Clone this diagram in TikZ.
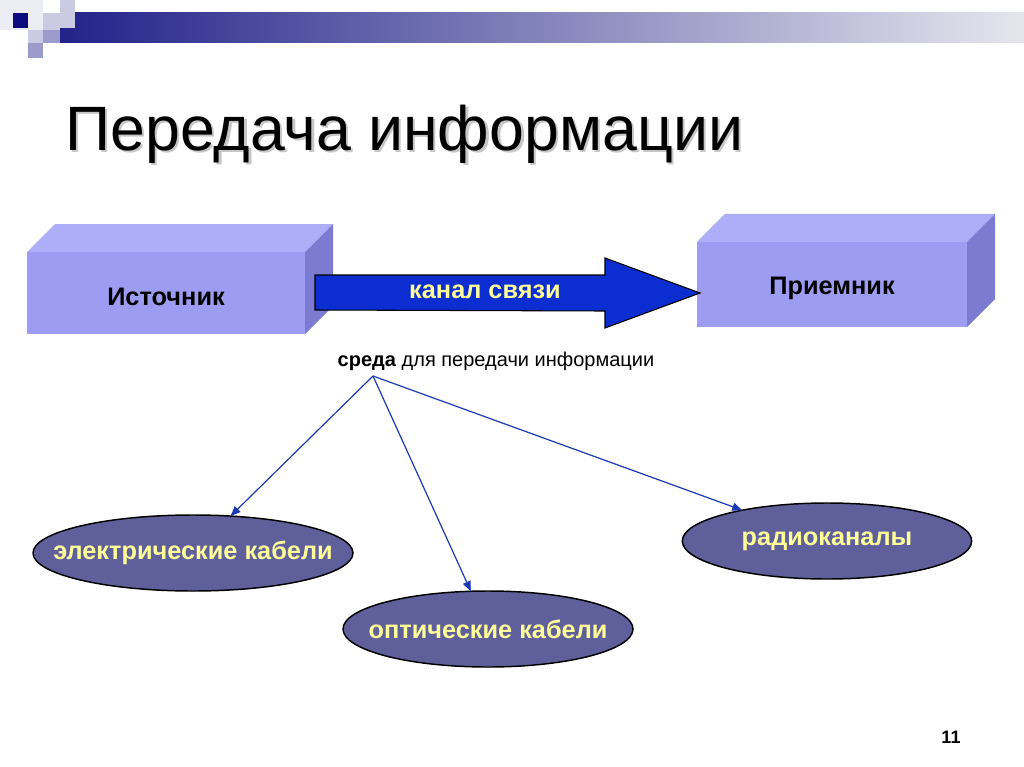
\documentclass[tikz,border=0pt]{standalone}
\usepackage{fontspec}
\setmainfont{Liberation Sans}
\usepackage{tikz}
\usetikzlibrary{arrows.meta,shapes.geometric}
\definecolor{barnavy}{HTML}{22228A}
\definecolor{barfade}{HTML}{E6E6EE}
\definecolor{tilenavy}{HTML}{0C0C7E}
\definecolor{tilepale}{HTML}{ECECF3}
\definecolor{tilelight}{HTML}{CACAE2}
\definecolor{tilemid}{HTML}{9C9CCC}
\definecolor{boxfront}{HTML}{9C9CF2}
\definecolor{boxtop}{HTML}{AEAEF8}
\definecolor{boxside}{HTML}{7B7BD2}
\definecolor{chanblue}{HTML}{0C2ED0}
\definecolor{linkblue}{HTML}{1C3AB4}
\definecolor{ovalfill}{HTML}{5F5F9C}
\definecolor{paleyellow}{HTML}{FFFF99}
\tikzset{
  heading/.style={anchor=base west, inner sep=0pt, font=\fontsize{47}{56}\selectfont},
  block/.style={rectangle, fill=boxfront, inner sep=0pt, outer sep=0pt, text height=19.5pt,
    minimum width=#1, font=\fontsize{19}{23}\selectfont\bfseries},
  block/.default=208pt,
  topface/.style={fill=boxtop},
  sideface/.style={fill=boxside},
  channel/.style={draw=black, line width=0.8pt, fill=chanblue},
  chantext/.style={text=paleyellow, inner sep=0pt, font=\fontsize{19}{23}\selectfont\bfseries},
  note/.style={anchor=base, inner sep=0pt, font=\fontsize{15}{18}\selectfont},
  oval/.style={ellipse, draw=black, line width=1.1pt, fill=ovalfill,
    minimum width=#1, minimum height=57pt, inner sep=0pt, outer sep=0pt},
  oval/.default=218pt,
  ovaltext/.style={text=paleyellow, inner sep=0pt, font=\fontsize{19}{23}\selectfont\bfseries},
  link/.style={-{Triangle[length=7.5pt,width=6pt]}, line width=0.9pt, draw=linkblue},
  pagenum/.style={inner sep=0pt, font=\fontsize{13.5}{16}\selectfont\bfseries},
}
\newcommand{\boxsides}[1]{%
  \fill[topface] (#1.north west) -- ++(28,-28) -- ([shift={(28,-28)}]#1.north east) -- (#1.north east) -- cycle;
  \fill[sideface] (#1.north east) -- ++(28,-28) -- ([shift={(28,-28)}]#1.south east) -- (#1.south east) -- cycle;}

\begin{document}
\begin{tikzpicture}[x=0.75pt,y=-0.75pt]
  \useasboundingbox (0,0) rectangle (1024,767);
  \fill[white] (0,0) rectangle (1024,767);

  \shade[left color=barnavy, right color=barfade] (60,13) rectangle (1024,43);
  \fill[tilepale] (0,0) rectangle (43,30);
  \fill[tilenavy] (13,13) rectangle (28,28);
  \fill[tilelight] (43,13) rectangle (60,30);
  \fill[tilelight] (60,0) rectangle (75,28);
  \fill[tilelight] (28,30) rectangle (43,43);
  \fill[tilemid] (43,30) rectangle (60,43);
  \fill[tilemid] (28,43) rectangle (43,58);

  \node[heading, text=black!22] (headshadow) at (67.5,152.5) {Передача информации};
  \node[heading] (head) at (65,150) {Передача информации};

  \node[block=208.5pt, minimum height=61.5pt] (src) at (166,293) {Источник};
  \node[block=202.5pt, minimum height=64pt] (dst) at (832,284.5) {Приемник};
  \boxsides{src}
  \boxsides{dst}

  \coordinate (tip) at (dst.west |- src.east);
  \draw[channel] ([shift={(10,-18)}]src.east) -- ++(290,0) -- ++(0,-17)
    -- ([shift={(3,0)}]tip) -- ++(-95,35) -- ++(0,-17) -- ([shift={(10,17)}]src.east) -- cycle;
  \node[chantext] (chan) at (485,292) {канал связи};

  \node[note] (medium) at (496,366) {\textbf{среда} для передачи информации};
  \coordinate (hub) at (373,376);

  \node[oval=240pt, label={[ovaltext]center:электрические кабели}] (elec) at (193,553) {};
  \node[oval=217.5pt, label={[ovaltext]center:оптические кабели}] (optic) at (488,629) {};
  \node[oval=217pt, label={[ovaltext]center:радиоканалы}] (radio) at (827,541) {};

  \draw[link] (hub) -- (elec);
  \draw[link] (hub) -- (optic);
  \draw[link] (hub) -- (radio);

  \node[pagenum] (pnum) at (951,737) {11};
\end{tikzpicture}
\end{document}
